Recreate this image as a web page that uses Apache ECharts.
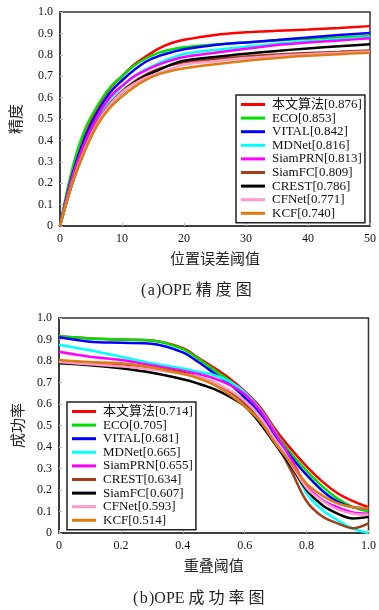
<!DOCTYPE html>
<html>
<head>
<meta charset="utf-8">
<script src="https://cdn.jsdelivr.net/npm/echarts@6/dist/echarts.min.js"></script>
<style>
  html, body { margin: 0; padding: 0; background: #fff; }
  #chart { width: 379px; height: 610px; }
</style>
</head>
<body>
<div id="chart"></div>
<script>
// OPE 精度图 / 成功率图

// 颜色（按图例顺序）
const colors = ['#ff0000', '#00e000', '#0000ff', '#00ffff', '#ff00ff', '#a0401a', '#000000', '#ff99cc', '#e07b10'];

// (a) 精度图
const precNames = ['本文算法[0.876]', 'ECO[0.853]', 'VITAL[0.842]', 'MDNet[0.816]', 'SiamPRN[0.813]', 'SiamFC[0.809]', 'CREST[0.786]', 'CFNet[0.771]', 'KCF[0.740]'];
const precX = [0, 2, 4, 6, 8, 10, 12, 14, 16, 18, 20, 25, 30, 35, 40, 45, 50];
const precRed     = [0, 0.25, 0.42, 0.55, 0.64, 0.70, 0.755, 0.795, 0.83, 0.855, 0.87, 0.893, 0.905, 0.912, 0.918, 0.925, 0.934];
const precGreen   = [0, 0.27, 0.45, 0.56, 0.645, 0.70, 0.75, 0.785, 0.81, 0.825, 0.835, 0.848, 0.858, 0.867, 0.875, 0.881, 0.888];
const precBlue    = [0, 0.24, 0.41, 0.53, 0.62, 0.68, 0.73, 0.77, 0.795, 0.812, 0.826, 0.846, 0.858, 0.869, 0.881, 0.892, 0.902];
const precCyan    = [0, 0.22, 0.38, 0.50, 0.59, 0.65, 0.70, 0.735, 0.762, 0.785, 0.804, 0.823, 0.838, 0.852, 0.863, 0.873, 0.882];
const precMagenta = [0, 0.23, 0.39, 0.51, 0.60, 0.655, 0.70, 0.73, 0.755, 0.775, 0.79, 0.81, 0.828, 0.846, 0.857, 0.867, 0.877];
const precBrown   = [0, 0.21, 0.365, 0.485, 0.57, 0.63, 0.675, 0.71, 0.735, 0.752, 0.765, 0.78, 0.792, 0.801, 0.808, 0.814, 0.82];
const precBlack   = [0, 0.20, 0.355, 0.475, 0.565, 0.625, 0.67, 0.705, 0.73, 0.755, 0.772, 0.79, 0.805, 0.818, 0.83, 0.84, 0.849];
const precPink    = [0, 0.205, 0.36, 0.48, 0.565, 0.625, 0.665, 0.695, 0.715, 0.735, 0.755, 0.77, 0.785, 0.795, 0.803, 0.809, 0.815];
const precOrange  = [0, 0.20, 0.35, 0.47, 0.55, 0.605, 0.65, 0.685, 0.71, 0.725, 0.737, 0.756, 0.772, 0.785, 0.795, 0.803, 0.81];

// (b) 成功率图
const succNames = ['本文算法[0.714]', 'ECO[0.705]', 'VITAL[0.681]', 'MDNet[0.665]', 'SiamPRN[0.655]', 'CREST[0.634]', 'SiamFC[0.607]', 'CFNet[0.593]', 'KCF[0.514]'];
const succX = [0, 0.1, 0.2, 0.3, 0.4, 0.45, 0.5, 0.55, 0.6, 0.65, 0.7, 0.75, 0.8, 0.85, 0.9, 0.95, 1.0];
const succRed     = [0.915, 0.905, 0.90, 0.895, 0.86, 0.815, 0.77, 0.72, 0.66, 0.585, 0.48, 0.39, 0.31, 0.24, 0.185, 0.148, 0.12];
const succGreen   = [0.915, 0.905, 0.90, 0.895, 0.855, 0.81, 0.76, 0.71, 0.645, 0.57, 0.465, 0.37, 0.29, 0.218, 0.16, 0.12, 0.10];
const succBlue    = [0.91, 0.89, 0.885, 0.88, 0.84, 0.795, 0.745, 0.695, 0.63, 0.555, 0.45, 0.355, 0.27, 0.198, 0.146, 0.12, 0.115];
const succCyan    = [0.876, 0.85, 0.82, 0.79, 0.765, 0.75, 0.735, 0.705, 0.655, 0.575, 0.465, 0.335, 0.185, 0.108, 0.06, 0.02, 0.0];
const succMagenta = [0.843, 0.82, 0.805, 0.78, 0.755, 0.74, 0.72, 0.69, 0.645, 0.57, 0.46, 0.345, 0.22, 0.155, 0.12, 0.095, 0.09];
const succBrown   = [0.80, 0.79, 0.785, 0.77, 0.745, 0.725, 0.70, 0.66, 0.605, 0.52, 0.42, 0.29, 0.148, 0.078, 0.045, 0.022, 0.045];
const succBlack   = [0.789, 0.78, 0.766, 0.745, 0.715, 0.695, 0.67, 0.635, 0.59, 0.51, 0.41, 0.31, 0.20, 0.13, 0.09, 0.068, 0.075];
const succPink    = [0.795, 0.785, 0.775, 0.76, 0.74, 0.725, 0.70, 0.665, 0.615, 0.54, 0.43, 0.32, 0.21, 0.15, 0.11, 0.09, 0.085];
const succOrange  = [0.805, 0.795, 0.79, 0.77, 0.74, 0.72, 0.69, 0.645, 0.59, 0.52, 0.415, 0.325, 0.23, 0.175, 0.138, 0.12, 0.115];

const precData = [precRed, precGreen, precBlue, precCyan, precMagenta, precBrown, precBlack, precPink, precOrange];
const succData = [succRed, succGreen, succBlue, succCyan, succMagenta, succBrown, succBlack, succPink, succOrange];

const serifFont = "'Liberation Serif', 'DejaVu Serif', 'Noto Sans CJK SC', serif";
const cjkFont = "'Noto Sans CJK SC', sans-serif";

function zip(xs, ys) {
    return xs.map((x, i) => [x, ys[i]]);
}

function makeSeries(names, xs, data, idx) {
    return names.map((name, i) => ({
        name: name,
        type: 'line',
        xAxisIndex: idx,
        yAxisIndex: idx,
        data: zip(xs, data[i]),
        smooth: 0.35,
        symbol: 'none',
        lineStyle: { color: colors[i], width: 2.5 },
        itemStyle: { color: colors[i] },
        z: 2 + i
    }));
}

function yLabel(v) {
    return v === 0 ? '0' : v.toFixed(1);
}

const axisCommon = {
    axisLine: { lineStyle: { color: '#333', width: 1.5 } },
    axisTick: { inside: true, length: 3, lineStyle: { color: '#bbb' } },
    splitLine: { show: false },
    axisLabel: { color: '#111', fontFamily: serifFont, fontSize: 12, margin: 7 }
};

function legendBox(names, left, top) {
    return {
        data: names,
        orient: 'vertical',
        left: left,
        top: top,
        itemWidth: 24,
        itemHeight: 3,
        itemGap: 0.6,
        padding: [3, 3, 3, 5],
        borderColor: '#222',
        borderWidth: 1.5,
        backgroundColor: '#fff',
        icon: 'rect',
        textStyle: { fontFamily: serifFont, fontSize: 13, lineHeight: 13, color: '#111', padding: [0, 0, 0, 2] }
    };
}

const captionStyle = { fontFamily: serifFont, fontSize: 16, fontWeight: 'normal', color: '#222' };

const chart = echarts.init(document.getElementById('chart'));

const option = {
    backgroundColor: '#fff',
    animation: false,
    title: [
        { text: '(\u200aa\u200a)OPE 精 度 图', left: 136, top: 278, textStyle: captionStyle },
        { text: '(\u200ab\u200a)OPE 成 功 率 图', left: 128, top: 586, textStyle: captionStyle }
    ],
    grid: [
        { left: 60, top: 12, right: 9, bottom: 384, show: true, borderColor: '#333', borderWidth: 1.5 },
        { left: 59, top: 318, right: 8, bottom: 77, show: true, borderColor: '#333', borderWidth: 1.5 }
    ],
    legend: [legendBox(precNames, 236, 95), legendBox(succNames, 67, 402)],
    xAxis: [
        Object.assign({}, axisCommon, {
            gridIndex: 0, type: 'value', min: 0, max: 50, interval: 10,
            name: '位置误差阈值', nameLocation: 'middle', nameGap: 25,
            nameTextStyle: { fontFamily: cjkFont, fontSize: 15, color: '#222' }
        }),
        Object.assign({}, axisCommon, {
            gridIndex: 1, type: 'value', min: 0, max: 1, interval: 0.2,
            name: '重叠阈值', nameLocation: 'middle', nameGap: 25,
            nameTextStyle: { fontFamily: cjkFont, fontSize: 15, color: '#222' },
            axisLabel: Object.assign({}, axisCommon.axisLabel, { formatter: v => (v === 0 ? '0' : v.toFixed(1)) })
        })
    ],
    yAxis: [
        Object.assign({}, axisCommon, {
            gridIndex: 0, type: 'value', min: 0, max: 1, interval: 0.1,
            name: '精度', nameLocation: 'middle', nameGap: 37, nameRotate: 90,
            nameTextStyle: { fontFamily: cjkFont, fontSize: 15, color: '#222' },
            axisLabel: Object.assign({}, axisCommon.axisLabel, { formatter: yLabel })
        }),
        Object.assign({}, axisCommon, {
            gridIndex: 1, type: 'value', min: 0, max: 1, interval: 0.1,
            name: '成功率', nameLocation: 'middle', nameGap: 34, nameRotate: 90,
            nameTextStyle: { fontFamily: cjkFont, fontSize: 15, color: '#222' },
            axisLabel: Object.assign({}, axisCommon.axisLabel, { formatter: yLabel })
        })
    ],
    series: makeSeries(precNames, precX, precData, 0).concat(makeSeries(succNames, succX, succData, 1))
};

chart.setOption(option);

window.addEventListener('resize', function() {
    chart.resize();
});
</script>
</body>
</html>
